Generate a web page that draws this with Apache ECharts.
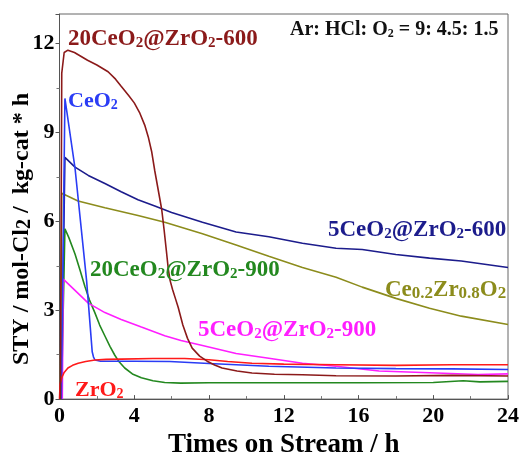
<!DOCTYPE html>
<html>
<head>
<meta charset="utf-8">
<script src="https://cdn.jsdelivr.net/npm/echarts@6/dist/echarts.min.js"></script>
<style>
  html, body { margin: 0; padding: 0; background: #fff; }
  #main { width: 522px; height: 464px; }
</style>
</head>
<body>
<div id="main"></div>
<script>
// time on stream (h) and STY values, one pair of arrays per catalyst
var t20_600 = [0.05, 0.12, 0.25, 0.45, 0.8, 1.5, 2.0, 2.6, 3.0, 3.3, 3.7, 4.0, 4.3, 4.56, 4.75, 4.93, 5.1, 5.3, 5.47, 5.6, 5.72, 5.82, 5.92, 6.05, 6.2, 6.35, 6.6, 6.85, 7.1, 7.5, 7.9, 8.3, 8.7, 9.5, 10.3, 11.5, 13, 14.8, 18, 21, 24];
var y20_600 = [0, 11.0, 11.7, 11.78, 11.7, 11.44, 11.28, 11.05, 10.8, 10.56, 10.25, 10.0, 9.65, 9.25, 8.85, 8.36, 7.7, 7.0, 6.4, 5.7, 5.0, 4.4, 4.0, 3.7, 3.4, 3.1, 2.5, 2.05, 1.72, 1.45, 1.28, 1.15, 1.05, 0.95, 0.88, 0.84, 0.82, 0.79, 0.78, 0.8, 0.78];

var tCeO2 = [0.1, 0.29, 0.83, 1.45, 1.75, 1.82, 1.9, 2.2, 4, 5.9, 8, 11.2, 14.8, 18, 21, 24];
var yCeO2 = [0, 10.15, 7.8, 4.0, 1.6, 1.42, 1.32, 1.28, 1.28, 1.27, 1.2, 1.11, 1.05, 1.03, 1.02, 1.0];

var tZrO2 = [0, 0.03, 0.12, 0.25, 0.45, 0.7, 1.0, 1.4, 1.9, 2.5, 3.3, 5, 6.7, 8, 9, 10.3, 12, 14.8, 18, 21, 24];
var yZrO2 = [0, 0.5, 0.72, 0.9, 1.05, 1.14, 1.21, 1.27, 1.32, 1.34, 1.35, 1.37, 1.37, 1.33, 1.27, 1.21, 1.18, 1.16, 1.14, 1.16, 1.16];

var t20_900 = [0.1, 0.29, 0.5, 0.83, 1.1, 1.36, 1.6, 1.89, 2.15, 2.43, 2.7, 2.96, 3.2, 3.49, 3.9, 4.38, 5.0, 5.63, 6.5, 8, 12, 16, 20, 21.6, 22.5, 24];
var y20_900 = [0, 5.75, 5.45, 4.9, 4.35, 3.8, 3.35, 2.92, 2.5, 2.13, 1.78, 1.48, 1.25, 1.05, 0.85, 0.72, 0.62, 0.56, 0.54, 0.55, 0.55, 0.55, 0.56, 0.62, 0.58, 0.6];

var t5_900 = [0.15, 0.2, 0.83, 1.54, 2.43, 3.3, 4.38, 5.63, 6.5, 7.65, 9.45, 11.2, 13, 14.8, 17.1, 19.8, 22.4, 24];
var y5_900 = [0, 4.05, 3.67, 3.24, 2.92, 2.69, 2.43, 2.14, 1.98, 1.81, 1.54, 1.38, 1.21, 1.11, 0.95, 0.89, 0.83, 0.85];

var t5_600 = [0.1, 0.29, 0.83, 1.54, 2.43, 3.3, 4.2, 5.1, 6.0, 7.65, 9.45, 11.2, 13, 14.8, 16.2, 18, 19.8, 21.5, 24];
var y5_600 = [0, 8.16, 7.83, 7.55, 7.28, 7.0, 6.73, 6.52, 6.3, 5.97, 5.64, 5.48, 5.26, 5.09, 5.05, 4.88, 4.76, 4.66, 4.44];

var tCeZr = [0.05, 0.12, 0.99, 2.43, 4.2, 5.63, 7.65, 9.45, 11.2, 13, 14.8, 16.2, 18, 19.8, 21.5, 24];
var yCeZr = [0, 6.95, 6.69, 6.46, 6.2, 5.97, 5.58, 5.2, 4.82, 4.44, 4.11, 3.78, 3.4, 3.07, 2.8, 2.52];

var xTicks = [0, 4, 8, 12, 16, 20, 24];
var yTicks = [0, 3, 6, 9, 12];

function pairs(t, y) {
    var out = [];
    for (var i = 0; i < t.length; i++) out.push([t[i], y[i]]);
    return out;
}

var FONT = '"Liberation Serif", "Times New Roman", serif';
var C = {
    c20_600: '#8b1a1a',
    ceo2: '#2a3cf5',
    zro2: '#ff1a1a',
    c20_900: '#23881f',
    c5_900: '#ff1eff',
    c5_600: '#1c1c8c',
    cezr: '#8c8c1c'
};

function label(text, x, y, color, size, subScale) {
    var rich = {
        s: { fontSize: Math.round(size * (subScale || 0.6)), fontWeight: 'bold', fontFamily: FONT, fill: color,
             verticalAlign: 'bottom', lineHeight: Math.round(size * 0.85) }
    };
    return {
        type: 'text',
        left: x,
        top: y,
        z: 100,
        style: {
            text: text,
            fill: color,
            fontSize: size,
            fontWeight: 'bold',
            fontFamily: FONT,
            lineHeight: size,
            rich: rich
        }
    };
}

var myChart = echarts.init(document.getElementById('main'));

function line(name, t, y, color) {
    return {
        name: name,
        type: 'line',
        showSymbol: false,
        data: pairs(t, y),
        lineStyle: { color: color, width: 1.6 },
        itemStyle: { color: color },
        animation: false
    };
}

var option = {
    backgroundColor: '#fff',
    animation: false,
    grid: {
        left: 59.5,
        right: 12,
        top: 14,
        bottom: 52,
        show: true,
        borderColor: '#666',
        borderWidth: 1
    },
    xAxis: {
        type: 'value',
        min: 0,
        max: 24,
        interval: 4,
        name: 'Times on Stream / h',
        nameLocation: 'middle',
        nameGap: 24,
        nameTextStyle: { fontFamily: FONT, fontWeight: 'bold', fontSize: 27, color: '#000' },
        axisLine: { lineStyle: { color: '#555', width: 1 } },
        axisTick: { inside: true, length: 4, lineStyle: { color: '#555' } },
        minorTick: { show: true, splitNumber: 2, length: 3, lineStyle: { color: '#777' } },
        splitLine: { show: false },
        axisLabel: {
            fontFamily: FONT, fontWeight: 'bold', fontSize: 22, color: '#000', margin: 6,
            formatter: function (v) { return xTicks.indexOf(v) >= 0 ? String(v) : ''; }
        }
    },
    yAxis: {
        type: 'value',
        min: 0,
        max: 13,
        interval: 3,
        axisLine: { show: true, lineStyle: { color: '#555', width: 1 } },
        axisTick: { show: true, inside: false, length: 4, lineStyle: { color: '#555' } },
        minorTick: { show: true, splitNumber: 2, length: 3, lineStyle: { color: '#777' } },
        splitLine: { show: false },
        axisLabel: {
            fontFamily: FONT, fontWeight: 'bold', fontSize: 22, color: '#000', margin: 5,
            showMaxLabel: false,
            formatter: function (v) { return yTicks.indexOf(v) >= 0 ? String(v) : ''; }
        }
    },
    graphic: [
        {
            type: 'text',
            x: 22,
            y: 229,
            rotation: Math.PI / 2,
            z: 100,
            style: {
                text: 'STY / mol-Cl{s|2} /  kg-cat * h',
                fill: '#000',
                fontSize: 24,
                fontWeight: 'bold',
                fontFamily: FONT,
                align: 'center',
                verticalAlign: 'middle',
                lineHeight: 26,
                rich: {
                    s: { fontSize: 20, fontWeight: 'bold', fontFamily: FONT, fill: '#000',
                         verticalAlign: 'bottom', lineHeight: 20 }
                }
            }
        },
        label('Ar: HCl: O{s|2} = 9: 4.5: 1.5', 290, 20, '#111', 20),
        label('20CeO{s|2}@ZrO{s|2}-600', 68, 28, C.c20_600, 23, 0.65),
        label('CeO{s|2}', 68, 90, C.ceo2, 22, 0.65),
        label('5CeO{s|2}@ZrO{s|2}-600', 328, 219, C.c5_600, 23, 0.65),
        label('Ce{s|0.2}Zr{s|0.8}O{s|2}', 385, 279, C.cezr, 23, 0.72),
        label('20CeO{s|2}@ZrO{s|2}-900', 90, 259, C.c20_900, 23, 0.65),
        label('5CeO{s|2}@ZrO{s|2}-900', 198, 319, C.c5_900, 23, 0.65),
        label('ZrO{s|2}', 75, 379, C.zro2, 22, 0.65)
    ],
    series: [
        line('Ce0.2Zr0.8O2', tCeZr, yCeZr, C.cezr),
        line('5CeO2@ZrO2-600', t5_600, y5_600, C.c5_600),
        line('20CeO2@ZrO2-900', t20_900, y20_900, C.c20_900),
        line('5CeO2@ZrO2-900', t5_900, y5_900, C.c5_900),
        line('CeO2', tCeO2, yCeO2, C.ceo2),
        line('ZrO2', tZrO2, yZrO2, C.zro2),
        line('20CeO2@ZrO2-600', t20_600, y20_600, C.c20_600)
    ]
};

myChart.setOption(option);
</script>
</body>
</html>
